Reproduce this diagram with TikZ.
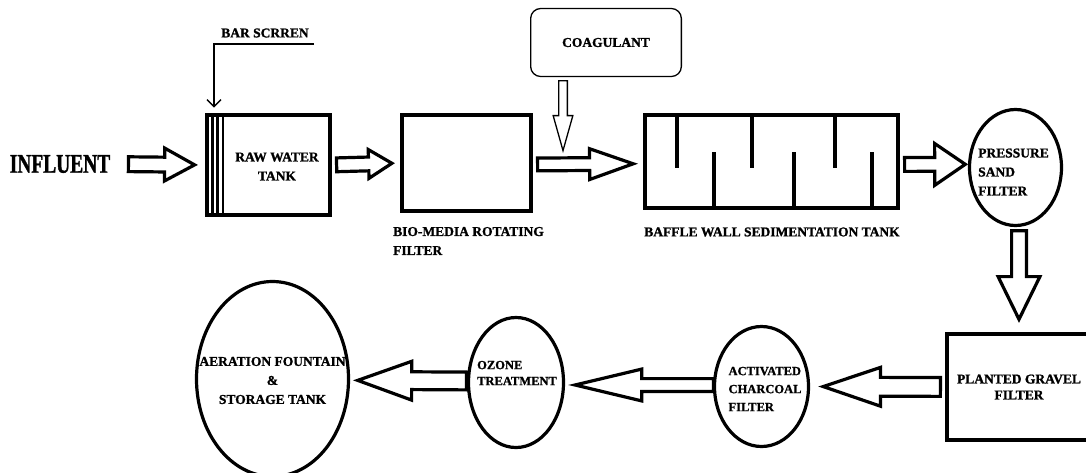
\documentclass[tikz,border=0pt]{standalone}
\usepackage{fontspec}
\setmainfont{Liberation Serif}[BoldFeatures={FakeBold=1.2}]
\newfontfamily\narrowserif[FakeStretch=0.72, BoldFeatures={FakeBold=1.2}]{Liberation Serif}
\usetikzlibrary{calc,shapes.geometric,arrows.meta}
\begin{document}
\begin{tikzpicture}[x=1pt, y=-1pt,
  tank/.style={draw, line width=4pt, inner sep=0pt, outer sep=0pt},
  pond/.style={draw, ellipse, line width=3.2pt, inner sep=0pt, outer sep=0pt},
  lbl/.style={font=\bfseries\fontsize{13.5}{19}\selectfont, inner sep=0pt},
  smalllbl/.style={font=\bfseries\fontsize{12.5}{18}\selectfont, inner sep=0pt},
  wall/.style={line width=3.3pt},
  fa start/.store in=\fagapa, fa end/.store in=\fagapb, fa start=0pt, fa end=0pt,
  fatarrow/.style n args={3}{draw, line width=3.2pt, line join=miter,
    to path={let \p1=($(\tikztostart)!\fagapa!(\tikztotarget)$),
                 \p2=($(\tikztotarget)!\fagapb!(\tikztostart)$),
                 \p3=($(\p2)!#1!(\p1)$) in
      ($(\p1)!#3!90:(\p2)$) -- ($(\p3)!#3!-90:(\p1)$) -- ($(\p3)!#2!-90:(\p1)$) -- (\p2)
      -- ($(\p3)!#2!90:(\p1)$) -- ($(\p3)!#3!90:(\p1)$) -- ($(\p1)!#3!-90:(\p2)$) -- cycle}}
]
\path[use as bounding box, fill=white] (0,0) rectangle (1086,472);
\clip (0,0) rectangle (1086,472);

\node[font=\narrowserif\bfseries\fontsize{27}{30}\selectfont, inner sep=0pt] (infl) at (60,164) {INFLUENT};

\node[tank, minimum width=123pt, minimum height=100pt, label={[lbl, align=center, xshift=8.5pt, yshift=-1.5pt]center:RAW WATER\\TANK}] (raw) at (268.5,165) {};
\draw[line width=2.2pt] ([xshift=5.5pt]raw.north west) -- ([xshift=5.5pt]raw.south west);
\draw[line width=2.2pt] ([xshift=10.5pt]raw.north west) -- ([xshift=10.5pt]raw.south west);
\draw[line width=2.2pt] ([xshift=16pt]raw.north west) -- ([xshift=16pt]raw.south west);
\node[lbl] (barlbl) at (265,33) {BAR SCRREN};
\coordinate (scrtail) at (314,44);
\draw[line width=1.3pt, -{Straight Barb[length=7pt, width=14pt]}] (scrtail) -| ([xshift=7pt, yshift=7.5pt]raw.north west);

\node[tank, minimum width=129pt, minimum height=96pt] (bio) at (466.5,163) {};
\node[lbl, align=left, anchor=west] (biolbl) at (393,241) {BIO-MEDIA ROTATING\\FILTER};

\node[draw, rounded corners=10pt, line width=1.3pt, minimum width=150.7pt, minimum height=68pt, inner sep=0pt, outer sep=0pt, font=\bfseries\fontsize{13.5}{19}\selectfont] (coag) at (606,42.5) {COAGULANT};
\coordinate (coagtip) at (563,150.6);
\draw[fatarrow={35pt}{9.85pt}{4.35pt}, fa start=4.3pt, line width=1.3pt] ([xshift=-43pt]coag.south) to (coagtip);

\node[tank, minimum width=253pt, minimum height=93pt] (baffle) at (771.5,161.5) {};
\draw[wall] ([xshift=32pt]baffle.north west) -- ++(0,53);
\draw[wall] ([xshift=107pt]baffle.north west) -- ++(0,53);
\draw[wall] ([xshift=190pt]baffle.north west) -- ++(0,53);
\draw[wall] ([xshift=69pt]baffle.south west) -- ++(0,-56);
\draw[wall] ([xshift=149pt]baffle.south west) -- ++(0,-56);
\draw[wall] ([xshift=227pt]baffle.south west) -- ++(0,-56);
\node[lbl] (baflbl) at (772,232) {BAFFLE WALL SEDIMENTATION TANK};

\node[pond, minimum width=92pt, minimum height=116pt, label={[lbl, align=left, xshift=-2pt, yshift=-4.5pt]center:PRESSURE\\SAND\\FILTER}] (psf) at (1015.5,167.5) {};

\node[tank, lbl, minimum width=144pt, minimum height=106pt, align=center] (planted) at (1019,387) {PLANTED GRAVEL\\[-3pt]FILTER};

\node[pond, minimum width=94pt, minimum height=120pt, label={[smalllbl, align=left, xshift=3.5pt, yshift=-2.5pt]center:ACTIVATED\\CHARCOAL\\FILTER}] (act) at (761.5,386.5) {};

\node[pond, minimum width=95pt, minimum height=130pt, label={[smalllbl, align=left, xshift=1pt, yshift=9.5pt]center:OZONE\\[-2pt]TREATMENT}] (ozone) at (516,382.5) {};

\node[pond, minimum width=152pt, minimum height=195pt, label={[lbl, align=center, yshift=-1.5pt]center:AERATION FOUNTAIN\\\&\\STORAGE TANK}] (aer) at (272.5,379) {};

\draw[fatarrow={30pt}{16.4pt}{7.4pt}, fa start=18pt, fa end=12.4pt] (infl.east) to (raw.west);
\draw[fatarrow={23.3pt}{14.4pt}{6.9pt}, fa start=6.6pt, fa end=10.1pt] (raw.east) to (bio.west);
\draw[fatarrow={43.6pt}{15.4pt}{6.4pt}, fa start=6.6pt, fa end=11.8pt] ([yshift=-1.5pt]bio.east) to (baffle.181.6);
\draw[fatarrow={30.6pt}{20.9pt}{6.9pt}, fa start=6.6pt, fa end=4.3pt] ([yshift=-3pt]baffle.east) to (psf.176.3);
\draw[fatarrow={42.7pt}{20.9pt}{7.4pt}, fa start=5.2pt, fa end=14.7pt] ([xshift=3.5pt]psf.south) to (planted.north);
\draw[fatarrow={57.3pt}{19.4pt}{9.4pt}, fa start=6.6pt, fa end=14.7pt] (planted.west) to (act.east);
\draw[fatarrow={66.6pt}{15.9pt}{6.4pt}, fa start=1pt, fa end=11.6pt] ([yshift=1.5pt]act.west) to (ozone.-3);
\draw[fatarrow={54pt}{19.4pt}{8.9pt}, fa start=2pt, fa end=9.2pt] ([yshift=1.5pt]ozone.west) to (aer.-1.5);
\end{tikzpicture}
\end{document}
